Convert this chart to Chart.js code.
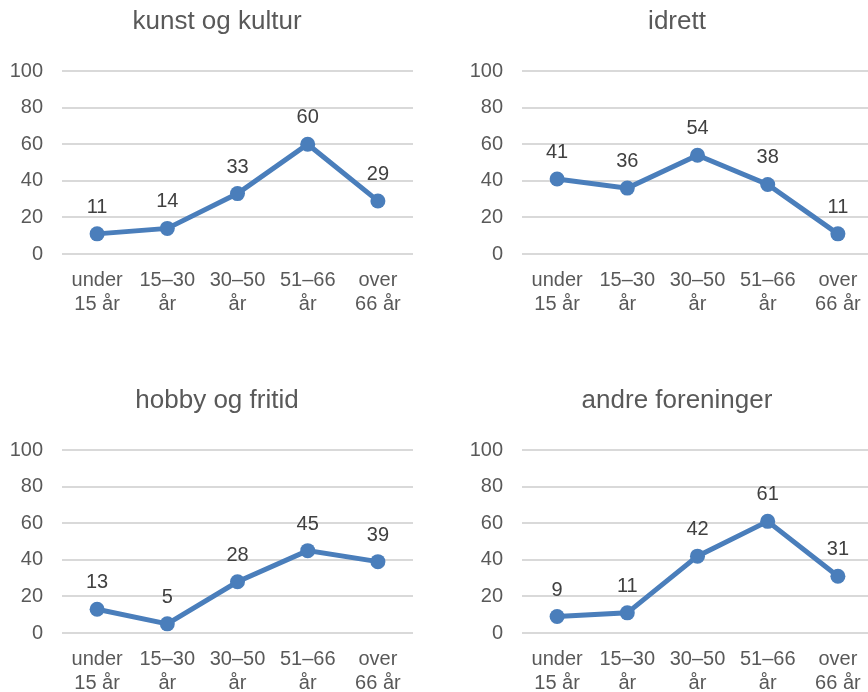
<!DOCTYPE html>
<html>
<head>
<meta charset="utf-8">
<script src="https://cdn.jsdelivr.net/npm/chart.js@4"></script>
<style>
  html, body { margin: 0; padding: 0; background: #fff; }
  body { width: 868px; height: 692px; overflow: hidden; position: relative; }
  .box { position: absolute; width: 434px; height: 314px; }
</style>
</head>
<body>
<div class="box" style="left:0;top:0"><canvas id="c1"></canvas></div>
<div class="box" style="left:460px;top:0"><canvas id="c2"></canvas></div>
<div class="box" style="left:0;top:379px"><canvas id="c3"></canvas></div>
<div class="box" style="left:460px;top:379px"><canvas id="c4"></canvas></div>
<script>
// age groups (two-line labels)
var ageGroups = [['under', '15 år'], ['15–30', 'år'], ['30–50', 'år'], ['51–66', 'år'], ['over', '66 år']];
var yTicks = [0, 20, 40, 60, 80, 100];

var kunstOgKultur = [11, 14, 33, 60, 29];
var idrett = [41, 36, 54, 38, 11];
var hobbyOgFritid = [13, 5, 28, 45, 39];
var andreForeninger = [9, 11, 42, 61, 31];

var titles = ['kunst og kultur', 'idrett', 'hobby og fritid', 'andre foreninger'];
var seriesList = [kunstOgKultur, idrett, hobbyOgFritid, andreForeninger];

var blue = '#4a7ebb';
var font = '"Liberation Sans", Arial, sans-serif';

// simple value labels above each point
var pointLabels = {
  id: 'pointLabels',
  afterDatasetsDraw: function(chart) {
    var ctx = chart.ctx;
    var meta = chart.getDatasetMeta(0);
    var vals = chart.data.datasets[0].data;
    ctx.save();
    ctx.font = '20px ' + font;
    ctx.fillStyle = '#404040';
    ctx.textAlign = 'center';
    ctx.textBaseline = 'alphabetic';
    meta.data.forEach(function(pt, i) {
      ctx.fillText(String(vals[i]), pt.x, pt.y - 21);
    });
    ctx.restore();
  }
};

function makeChart(id, title, values) {
  return new Chart(document.getElementById(id), {
    type: 'line',
    data: {
      labels: ageGroups,
      datasets: [{
        data: values,
        borderColor: blue,
        backgroundColor: blue,
        borderWidth: 5,
        pointRadius: 7.5,
        pointBackgroundColor: blue,
        pointBorderColor: blue,
        pointBorderWidth: 0,
        tension: 0
      }]
    },
    options: {
      responsive: true,
      maintainAspectRatio: false,
      animation: false,
      layout: { padding: 0 },
      plugins: {
        legend: { display: false },
        tooltip: { enabled: false },
        title: {
          display: true,
          text: title,
          color: '#595959',
          font: { family: font, size: 26, weight: 'normal', lineHeight: 1.2 },
          padding: { top: 6.4, bottom: 33.4 }
        }
      },
      scales: {
        x: {
          offset: true,
          grid: { display: false, drawTicks: false },
          border: { display: false },
          ticks: {
            color: '#595959',
            font: { family: font, size: 20, lineHeight: 1.2 },
            padding: 14,
            maxRotation: 0,
            autoSkip: false
          },
          afterFit: function(s) { s.height = 60; }
        },
        y: {
          min: 0,
          max: 100,
          afterBuildTicks: function(s) { s.ticks = yTicks.map(function(v) { return { value: v }; }); },
          grid: { color: '#d9d9d9', lineWidth: 2, drawTicks: false },
          border: { display: false },
          ticks: {
            color: '#595959',
            font: { family: font, size: 20 },
            padding: 19
          },
          afterFit: function(s) { s.width = 62; }
        },
        // empty right gutter so the title stays centred on the whole panel
        gutter: {
          type: 'linear',
          position: 'right',
          grid: { display: false, drawTicks: false },
          border: { display: false },
          ticks: { display: false },
          afterFit: function(s) { s.width = 21; }
        }
      }
    },
    plugins: [pointLabels]
  });
}

['c1', 'c2', 'c3', 'c4'].forEach(function(id, i) {
  makeChart(id, titles[i], seriesList[i]);
});
</script>
</body>
</html>
